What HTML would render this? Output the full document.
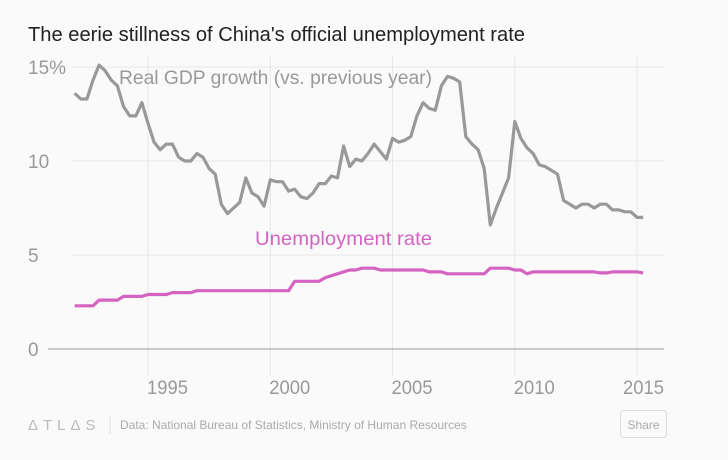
<!DOCTYPE html>
<html><head><meta charset="utf-8">
<style>
body{margin:0;background:#fafafa;font-family:"Liberation Sans",sans-serif;}
svg{display:block}
</style></head>
<body>
<svg width="728" height="460" viewBox="0 0 728 460" xmlns="http://www.w3.org/2000/svg">
<rect width="728" height="460" fill="#fafafa"/>
<text x="28" y="41" font-size="20" fill="#222" textLength="497" lengthAdjust="spacingAndGlyphs">The eerie stillness of China's official unemployment rate</text>
<g id="grid"></g>
<g id="axes"></g>
<g id="series"></g>
<text x="119" y="84" font-size="19" fill="#999" textLength="313" lengthAdjust="spacingAndGlyphs">Real GDP growth (vs. previous year)</text>
<text x="255" y="245" font-size="19.5" fill="#d463c2" textLength="177" lengthAdjust="spacingAndGlyphs">Unemployment rate</text>
<text x="28" y="430" font-size="15" fill="#bbb" letter-spacing="5">ΔTLΔS</text>
<line x1="110" y1="416" x2="110" y2="434" stroke="#ddd"/>
<text x="120" y="429" font-size="12" fill="#aaa">Data: National Bureau of Statistics, Ministry of Human Resources</text>
<rect x="620.5" y="410.5" width="46" height="27" rx="3" fill="#fafafa" stroke="#ddd"/>
<text x="643.5" y="429" font-size="12" fill="#aaa" text-anchor="middle">Share</text>
</svg>
<script>
const startYear = 1992.0;
const stepYears = 0.25;
const gdpGrowth = [13.6,13.3,13.3,14.3,15.1,14.8,14.3,14.0,12.9,12.4,12.4,13.1,12.0,11.0,10.6,10.9,10.9,10.2,10.0,10.0,10.4,10.2,9.6,9.3,7.7,7.2,7.5,7.8,9.1,8.3,8.1,7.6,9.0,8.9,8.9,8.4,8.5,8.1,8.0,8.3,8.8,8.8,9.2,9.1,10.8,9.7,10.1,10.0,10.4,10.9,10.5,10.1,11.2,11.0,11.1,11.3,12.4,13.1,12.8,12.7,14.0,14.5,14.4,14.2,11.3,10.9,10.6,9.6,6.6,7.5,8.3,9.1,12.1,11.2,10.7,10.4,9.8,9.7,9.5,9.3,7.9,7.7,7.5,7.7,7.7,7.5,7.7,7.7,7.4,7.4,7.3,7.3,7.0,7.0];
const unemployment = [2.3,2.3,2.3,2.3,2.6,2.6,2.6,2.6,2.8,2.8,2.8,2.8,2.9,2.9,2.9,2.9,3.0,3.0,3.0,3.0,3.1,3.1,3.1,3.1,3.1,3.1,3.1,3.1,3.1,3.1,3.1,3.1,3.1,3.1,3.1,3.1,3.6,3.6,3.6,3.6,3.6,3.8,3.9,4.0,4.1,4.2,4.2,4.3,4.3,4.3,4.2,4.2,4.2,4.2,4.2,4.2,4.2,4.2,4.1,4.1,4.1,4.0,4.0,4.0,4.0,4.0,4.0,4.0,4.3,4.3,4.3,4.3,4.2,4.2,4.0,4.1,4.1,4.1,4.1,4.1,4.1,4.1,4.1,4.1,4.1,4.1,4.05,4.05,4.1,4.1,4.1,4.1,4.1,4.05];
const yTicks = [0,5,10,15];
const yTickLabels = ["0","5","10","15%"];
const xTicks = [1995,2000,2005,2010,2015];

const NS="http://www.w3.org/2000/svg";
function xs(yr){return 148+(yr-1995)*24.45;}
function ys(v){return 349-v*18.8;}
function mk(tag,attrs,parent){const e=document.createElementNS(NS,tag);for(const k in attrs)e.setAttribute(k,attrs[k]);parent.appendChild(e);return e;}
const grid=document.getElementById('grid'),axes=document.getElementById('axes'),series=document.getElementById('series');
yTicks.forEach((t,i)=>{
  if(t!==0){
    const l=mk('line',{x1:71,x2:664,y1:ys(t),y2:ys(t),stroke:'#e8e8e8','stroke-width':1},grid);
    
    
  }
  const tx=mk('text',{x:28,y:ys(t)+7,'font-size':19,fill:'#999'},axes);
  tx.textContent=yTickLabels[i];
  
  
});
xTicks.forEach(t=>{
  const l=mk('line',{x1:xs(t),x2:xs(t),y1:55,y2:376,stroke:'#e8e8e8','stroke-width':1},grid);
  
  
  const lx=Math.min(xs(t)-1,664-41);
  const tx=mk('text',{x:lx,y:394,'font-size':19.5,fill:'#999',textLength:41,lengthAdjust:'spacingAndGlyphs'},axes);
  tx.textContent=String(t);
  
  
});
const zl=mk('line',{x1:48,x2:664,y1:ys(0),y2:ys(0),stroke:'#999','stroke-width':1},axes);


function path(vals,color,name){
  const d=vals.map((v,i)=>(i?'L':'M')+xs(startYear+i*stepYears).toFixed(1)+','+ys(v).toFixed(1)).join('');
  const p=mk('path',{d:d,fill:'none',stroke:color,'stroke-width':3.2,'stroke-linejoin':'round'},series);
  
  
}
path(gdpGrowth,'#999','gdp-growth-line');
path(unemployment,'#d463c2','unemployment-line');
</script>
</body></html>
